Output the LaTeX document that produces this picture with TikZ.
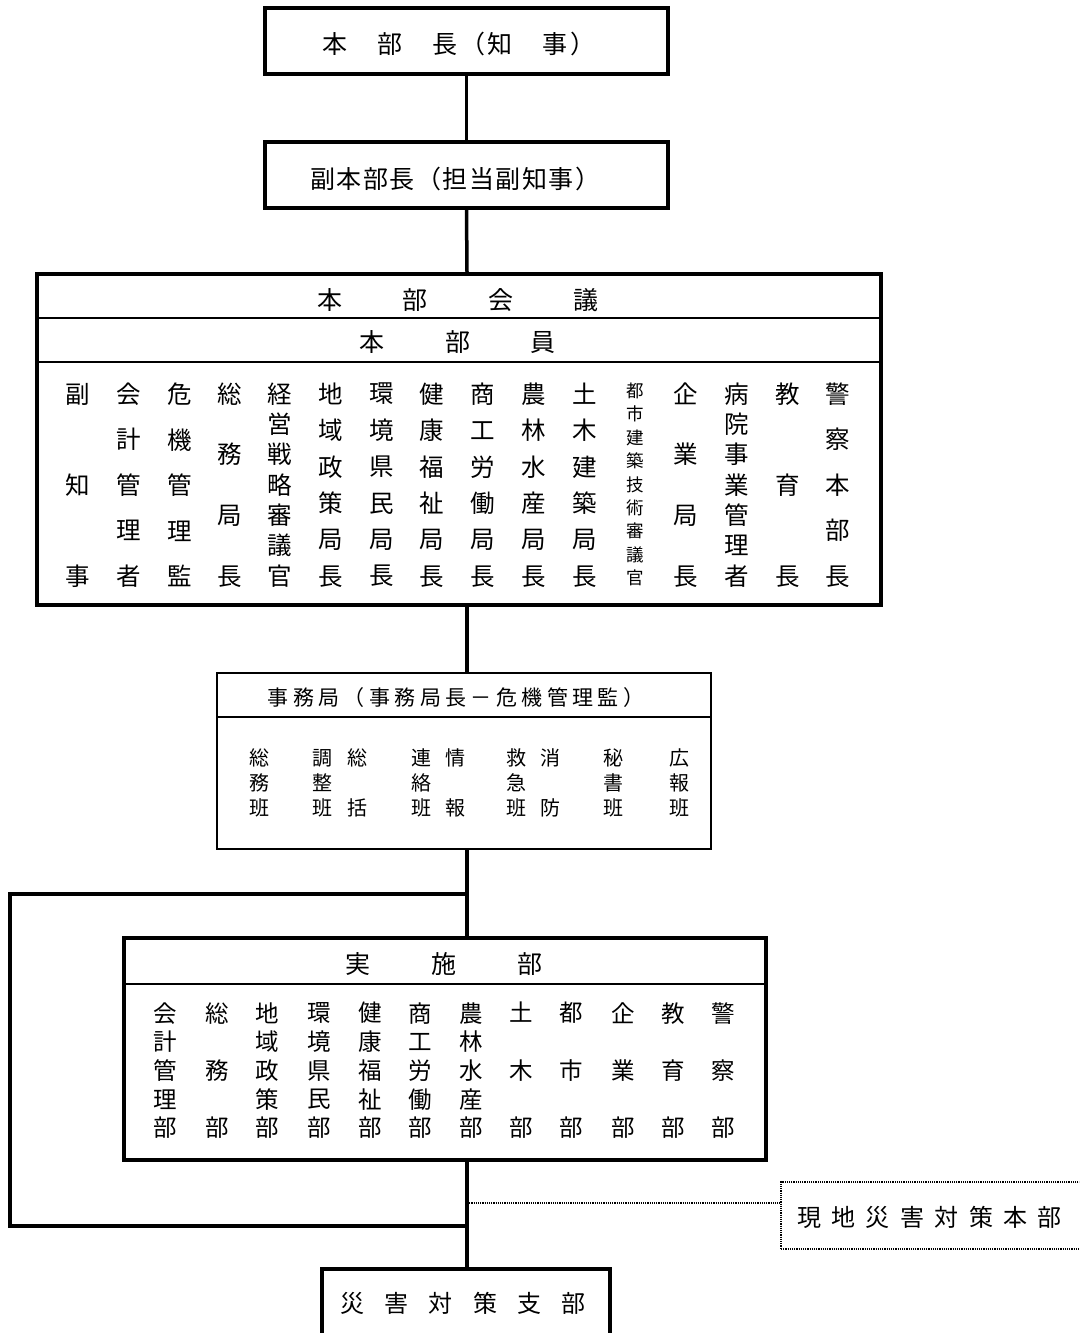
\documentclass[tikz,border=0pt]{standalone}
\usepackage{fontspec}
\setmainfont{Noto Sans CJK JP}
\newcommand\fsz[1]{\fontsize{#1}{#1}\selectfont}
\newcommand\lspc[2]{\def\rsgap{#1}\rsfirst#2\relax}
\def\rsfirst#1{#1\rsrest}
\def\rsrest#1{\ifx#1\relax\else\hspace{\rsgap}#1\expandafter\rsrest\fi}
\tikzset{
 conn/.style={line width=3.5pt},
 thickbox/.style={draw, line width=4pt, inner sep=0pt},
 thinbox/.style={draw, line width=2pt, inner sep=0pt},
 sepline/.style={line width=2.2pt},
 dotline/.style={line width=1.2pt, dash pattern=on 1.2pt off 1pt},
 txt/.style={inner sep=0pt},
 vc/.style n args={2}{inner sep=0pt, align=center, font=\fontsize{#1}{#2}\selectfont},
}
\begin{document}
\begin{tikzpicture}[x=1pt,y=-1pt]
\useasboundingbox (0,0) rectangle (1079,1333);
\fill[white] (0,0) rectangle (1079,1333);
\clip (0,0) rectangle (1079,1333);
\coordinate (spine) at (467,0);

% boxes
\node[thickbox, minimum width=403pt, minimum height=66pt] (b1) at (466.5,41) {};
\node[thickbox, minimum width=403pt, minimum height=66pt] (b2) at (466.5,175) {};
\node[thickbox, minimum width=844pt, minimum height=331pt] (b3) at (459,439.5) {};
\node[thinbox, minimum width=494pt, minimum height=176pt] (b4) at (464,761) {};
\node[thickbox, minimum width=642pt, minimum height=222pt] (b5) at (445,1049) {};
\node[thickbox, minimum width=288pt, minimum height=68pt] (b6) at (466,1303) {};
\node[draw, dotline, inner sep=0pt, minimum width=300pt, minimum height=67pt] (gb) at (931,1215.5) {};

% connectors
\draw[conn] (b1.south) -- (b2.north);
\draw[conn] (b2.south) -- (spine |- b3.north);
\draw[conn] (spine |- b3.south) -- (spine |- b4.north);
\draw[conn] (spine |- b4.south) -- (spine |- b5.north);
\draw[conn] (spine |- b5.south) -- (spine |- b6.north);
\coordinate (brT) at (467,894);
\coordinate (brB) at (467,1226);
\coordinate (brL) at (10,0);
\draw[conn] (brT) -- (brL |- brT) -- (brL |- brB) -- (brB);
\coordinate (dl) at (0,1203);
\draw[dotline] (spine |- dl) -- (gb.west |- dl);

% separators
\draw[sepline] (b3.west |- 0,318) -- (b3.east |- 0,318);
\draw[sepline] (b3.west |- 0,362) -- (b3.east |- 0,362);
\draw[sepline] (b4.west |- 0,717) -- (b4.east |- 0,717);
\draw[sepline] (b5.west |- 0,984) -- (b5.east |- 0,984);

% texts
\node[txt, font=\fsz{25}] (b1t) at (459,44) {\lspc{2.5pt}{本　部　長（知　事）}};
\node[txt, font=\fsz{25}] (b2t) at (455,179) {\lspc{1.5pt}{副本部長（担当副知事）}};
\node[txt, font=\fsz{25}] (b3h) at (458,300) {\lspc{3.5pt}{本　　部　　会　　議}};
\node[txt, font=\fsz{25}] (b3s) at (457.5,342) {\lspc{3.5pt}{本　　部　　員}};
\node[txt, font=\fsz{21}] (b4h) at (456,698) {\lspc{4.4pt}{事務局（事務局長－危機管理監）}};
\node[txt, font=\fsz{25}] (b5h) at (444,964) {\lspc{3.67pt}{実　　施　　部}};
\node[txt, font=\fsz{24}] (b6t) at (463,1303) {\lspc{20.2pt}{災害対策支部}};
\node[txt, font=\fsz{24}] (gbt) at (929.5,1217) {\lspc{10.4pt}{現地災害対策本部}};

% box3 columns
\node[vc={24.5}{91}] (m1) at (78,485) {副\\知\\事};
\node[vc={24.5}{45.5}] (m2) at (129,485) {会\\計\\管\\理\\者};
\node[vc={24.5}{45.5}] (m3) at (180,485) {危\\機\\管\\理\\監};
\node[vc={24.5}{60.67}] (m4) at (230,485) {総\\務\\局\\長};
\node[vc={24.5}{30.33}] (m5) at (280,485) {経\\営\\戦\\略\\審\\議\\官};
\node[vc={24.5}{36.4}] (m6) at (331,485) {地\\域\\政\\策\\局\\長};
\node[vc={24.5}{36.4}] (m7) at (382,485) {環\\境\\県\\民\\局\\長};
\node[vc={24.5}{36.4}] (m8) at (432,485) {健\\康\\福\\祉\\局\\長};
\node[vc={24.5}{36.4}] (m9) at (483,485) {商\\工\\労\\働\\局\\長};
\node[vc={24.5}{36.4}] (m10) at (534,485) {農\\林\\水\\産\\局\\長};
\node[vc={24.5}{36.4}] (m11) at (585,485) {土\\木\\建\\築\\局\\長};
\node[vc={17.5}{23.4}] (m12) at (635,484.5) {都\\市\\建\\築\\技\\術\\審\\議\\官};
\node[vc={24.5}{60.67}] (m13) at (686,485) {企\\業\\局\\長};
\node[vc={24.5}{30.33}] (m14) at (737,485) {病\\院\\事\\業\\管\\理\\者};
\node[vc={24.5}{91}] (m15) at (788,485) {教\\育\\長};
\node[vc={24.5}{45.5}] (m16) at (838,485) {警\\察\\本\\部\\長};

% box4 columns
\node[vc={20}{25}] (j1) at (259,783) {総\\務\\班};
\node[vc={20}{25}] (j2) at (322,783) {調\\整\\班};
\node[vc={20}{25}] (j3) at (357,783) {総\\　\\括};
\node[vc={20}{25}] (j4) at (421,783) {連\\絡\\班};
\node[vc={20}{25}] (j5) at (455,783) {情\\　\\報};
\node[vc={20}{25}] (j6) at (516,783) {救\\急\\班};
\node[vc={20}{25}] (j7) at (550,783) {消\\　\\防};
\node[vc={20}{25}] (j8) at (613,783) {秘\\書\\班};
\node[vc={20}{25}] (j9) at (679,783) {広\\報\\班};

% box5 columns
\node[vc={23.5}{28.7}] (k1) at (165,1070.5) {会\\計\\管\\理\\部};
\node[vc={23.5}{28.7}] (k2) at (217,1070.5) {総\\　\\務\\　\\部};
\node[vc={23.5}{28.7}] (k3) at (267,1070.5) {地\\域\\政\\策\\部};
\node[vc={23.5}{28.7}] (k4) at (319,1070.5) {環\\境\\県\\民\\部};
\node[vc={23.5}{28.7}] (k5) at (370,1070.5) {健\\康\\福\\祉\\部};
\node[vc={23.5}{28.7}] (k6) at (420,1070.5) {商\\工\\労\\働\\部};
\node[vc={23.5}{28.7}] (k7) at (471,1070.5) {農\\林\\水\\産\\部};
\node[vc={23.5}{28.7}] (k8) at (521,1070.5) {土\\　\\木\\　\\部};
\node[vc={23.5}{28.7}] (k9) at (571,1070.5) {都\\　\\市\\　\\部};
\node[vc={23.5}{28.7}] (k10) at (623,1070.5) {企\\　\\業\\　\\部};
\node[vc={23.5}{28.7}] (k11) at (673,1070.5) {教\\　\\育\\　\\部};
\node[vc={23.5}{28.7}] (k12) at (723,1070.5) {警\\　\\察\\　\\部};
\end{tikzpicture}
\end{document}
